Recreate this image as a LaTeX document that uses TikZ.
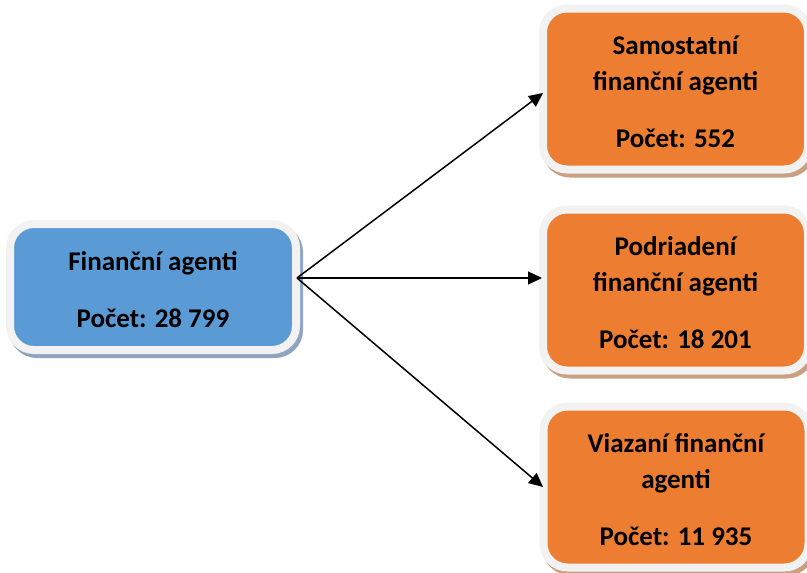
\documentclass[tikz,border=0pt]{standalone}
\usepackage{fontspec}
\setmainfont{Carlito}
\usetikzlibrary{arrows.meta,shadows}
\definecolor{bordergray}{HTML}{F2F2F2}
\definecolor{bluefill}{HTML}{5B9BD5}
\definecolor{orangefill}{HTML}{ED7D31}
\definecolor{blueshadow}{HTML}{8EA4BF}
\definecolor{orangeshadow}{HTML}{C9A182}
\newcommand\agentstrut{\rule{0pt}{25pt}}
\tikzset{
  agentbox/.style={draw=bordergray, line width=8pt, rounded corners=24pt,
    align=center, inner sep=0pt, text=black,
    font=\fontsize{27}{36}\selectfont\bfseries},
  bluebox/.style={agentbox, fill=bluefill, minimum width=286pt, minimum height=126pt,
    drop shadow={shadow xshift=3pt, shadow yshift=-4pt, fill=blueshadow, draw=blueshadow, line width=8pt, opacity=1}},
  orangebox/.style={agentbox, fill=orangefill, minimum width=265pt, minimum height=161pt,
    drop shadow={shadow xshift=3pt, shadow yshift=-4pt, fill=orangeshadow, draw=orangeshadow, line width=8pt, opacity=1}},
  link/.style={line width=1.5pt, -{Triangle[length=14pt,width=13pt]}}
}
\begin{document}
\begin{tikzpicture}[x=1pt,y=-1pt]
\useasboundingbox (0,0) rectangle (807,573);
\node[bluebox] (fa) at (153,287) {\agentstrut Finančn\'{\i} agenti\\[21pt]Počet: 28 799};
\node[orangebox] (sfa) at (675.5,89) {\agentstrut Samostatn\'{\i}\\finančn\'{\i} agenti\\[21pt]Počet: 552};
\node[orangebox] (pfa) at (675.5,290) {\agentstrut Podriaden\'{\i}\\finančn\'{\i} agenti\\[21pt]Počet: 18 201};
\node[orangebox] (vfa) at (676,487) {\agentstrut Viazan\'{\i} finančn\'{\i}\\agenti\\[21pt]Počet: 11 935};
\coordinate (src) at (297,278);
\coordinate (tsfa) at (543,93);
\coordinate (tpfa) at (542,278);
\coordinate (tvfa) at (543,487);
\draw[link] (src) -- (tsfa);
\draw[link] (src) -- (tpfa);
\draw[link] (src) -- (tvfa);
\end{tikzpicture}
\end{document}
